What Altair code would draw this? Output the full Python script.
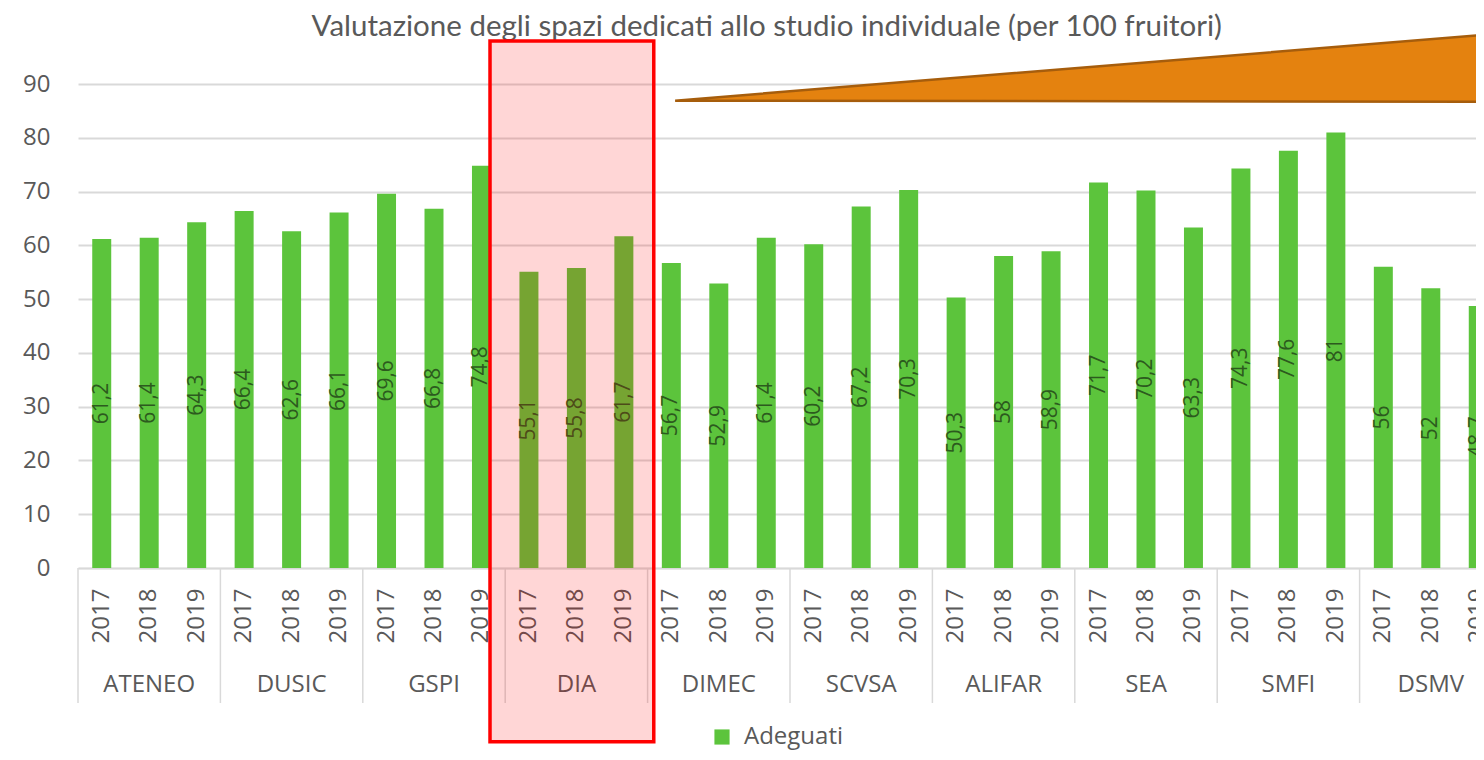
import altair as alt
import pandas as pd

# ---------------- data ----------------
groups = ["ATENEO", "DUSIC", "GSPI", "DIA", "DIMEC", "SCVSA", "ALIFAR", "SEA", "SMFI", "DSMV"]
years = ["2017", "2018", "2019"]
adeguati = [
    61.2, 61.4, 64.3,   # ATENEO
    66.4, 62.6, 66.1,   # DUSIC
    69.6, 66.8, 74.8,   # GSPI
    55.1, 55.8, 61.7,   # DIA
    56.7, 52.9, 61.4,   # DIMEC
    60.2, 67.2, 70.3,   # SCVSA
    50.3, 58.0, 58.9,   # ALIFAR
    71.7, 70.2, 63.3,   # SEA
    74.3, 77.6, 81.0,   # SMFI
    56.0, 52.0, 48.7,   # DSMV
]
series_name = "Adeguati"
title_text = "Valutazione degli spazi dedicati allo studio individuale (per 100 fruitori)"

# annotation geometry, in chart units (x: bar slots 0..30, y: axis value)
title_pos = [14.51, 100.6]
highlight_x = [8.68, 12.13]
highlight_y = [98.0, -32.3]
pointer_x = [12.58, 30.0]
pointer_top = [86.9, 99.4]
pointer_bottom = [86.9, 86.7]
separator_y = [0.0, -25.1]
group_label_y = -21.8

# ---------------- style ----------------
GREEN = "#5cc43c"
GREY = "#595959"
GRID = "#d9d9d9"
FONT = "Open Sans"
W, H = 1398, 484
SLOT_RANGE = [0, 1424]

keys = [f"{g}|{y}" for g in groups for y in years]
df = pd.DataFrame({
    "key": keys,
    "group": [g for g in groups for _ in years],
    "year": [y for _ in groups for y in years],
    "value": adeguati,
    "series": series_name,
})

yscale = alt.Scale(domain=[0, 90], nice=False)

xband = alt.X(
    "key:N", sort=keys,
    scale=alt.Scale(range=SLOT_RANGE, paddingInner=0.6, paddingOuter=0.3),
    axis=alt.Axis(
        title=None, labelExpr="split(datum.label, '|')[1]", labelAngle=270,
        labelFont=FONT, labelFontSize=24, labelColor=GREY, labelPadding=20,
        ticks=False, tickSize=0, domainColor=GRID, domainWidth=1.5, grid=False,
        labelOverlap=False,
    ),
)

bars = alt.Chart(df).mark_bar().encode(
    x=xband,
    y=alt.Y("value:Q", scale=yscale, title=None,
            axis=alt.Axis(values=list(range(0, 91, 10)), ticks=False, tickSize=0, domain=False,
                          labelFont=FONT, labelFontSize=24, labelColor=GREY, labelPadding=28,
                          gridColor=GRID, gridWidth=1.8)),
    color=alt.Color("series:N", scale=alt.Scale(domain=[series_name], range=[GREEN]),
                    legend=alt.Legend(title=None, orient="none", legendX=632, legendY=641,
                                      symbolType="square", symbolSize=230, symbolStrokeWidth=0,
                                      labelFont=FONT, labelFontSize=24, labelColor=GREY,
                                      labelOffset=10)),
)

labels = alt.Chart(df).transform_calculate(
    mid="datum.value / 2",
    lab="replace(toString(datum.value), '.', ',')",
).mark_text(angle=270, align="center", baseline="middle", font=FONT, fontSize=21,
            color="#2c5a1e").encode(
    x=xband,
    y=alt.Y("mid:Q", scale=yscale, title=None),
    text="lab:N",
)

data_layer = alt.layer(bars, labels)

xslot = lambda f: alt.X(f, scale=alt.Scale(domain=[0, 30], range=SLOT_RANGE, nice=False, zero=False),
                        axis=None, title=None)

title_df = pd.DataFrame({"pos": [title_pos[0]], "yy": [title_pos[1]], "t": [title_text]})
title_mark = alt.Chart(title_df).mark_text(font="Lato", fontSize=29.5, color=GREY,
                                           align="center", baseline="middle").encode(
    x=xslot("pos:Q"),
    y=alt.Y("yy:Q", scale=yscale, title=None),
    text="t:N",
)

sep_df = pd.DataFrame({"pos": [3 * i for i in range(len(groups) + 1)],
                       "y1": separator_y[0], "y2": separator_y[1]})
seps = alt.Chart(sep_df).mark_rule(color=GRID, strokeWidth=1.5).encode(
    x=xslot("pos:Q"),
    y=alt.Y("y1:Q", scale=yscale, title=None),
    y2="y2:Q",
)

glab_df = pd.DataFrame({"pos": [3 * i + 1.5 for i in range(len(groups))],
                        "group": groups, "yy": group_label_y})
glabels = alt.Chart(glab_df).mark_text(font=FONT, fontSize=24, color=GREY,
                                       align="center", baseline="middle").encode(
    x=xslot("pos:Q"),
    y=alt.Y("yy:Q", scale=yscale, title=None),
    text="group:N",
)

ptr_df = pd.DataFrame({"px": pointer_x, "top": pointer_top, "bot": pointer_bottom})
pointer = alt.Chart(ptr_df).mark_area(color="#e4820f", stroke="#a65d0c", strokeWidth=2.5,
                                      opacity=1).encode(
    x=xslot("px:Q"),
    y=alt.Y("top:Q", scale=yscale, title=None),
    y2="bot:Q",
)

hl_df = pd.DataFrame({"x1": [highlight_x[0]], "x2": [highlight_x[1]],
                      "y1": [highlight_y[0]], "y2": [highlight_y[1]]})
highlight = alt.Chart(hl_df).mark_rect(fill="#ff0000", fillOpacity=0.16,
                                       stroke="#ff0000", strokeWidth=3.5).encode(
    x=xslot("x1:Q"), x2="x2:Q",
    y=alt.Y("y1:Q", scale=yscale, title=None), y2="y2:Q",
)

annot_layer = alt.layer(title_mark, seps, glabels, pointer, highlight)

chart = alt.layer(data_layer, annot_layer).resolve_scale(x="independent").properties(
    width=W, height=H,
    autosize=alt.AutoSizeParams(type="none"),
    padding={"left": 70, "top": 76, "right": 0, "bottom": 184},
    background="white",
).configure_view(stroke=None)

chart.save("out.html", embed_options={"renderer": "svg", "actions": False})
